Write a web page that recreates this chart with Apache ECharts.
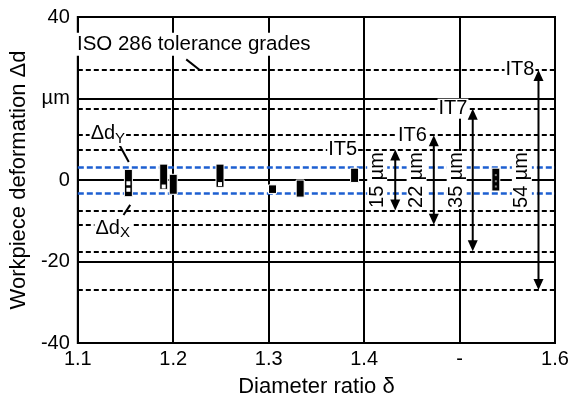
<!DOCTYPE html>
<html><head><meta charset="utf-8">
<script src="https://cdn.jsdelivr.net/npm/echarts@6/dist/echarts.min.js"></script>
<style>html,body{margin:0;padding:0;background:#fff}#c{width:574px;height:403px}</style>
</head><body><div id="c"></div>
<script>
// ---- data ----
const xTicks = [1.1, 1.2, 1.3, 1.4, 1.5, 1.6];
const xTickLabels = ['1.1', '1.2', '1.3', '1.4', '-', '1.6'];
const yTicks = [-40, -20, 0, 20, 40];
const yTickLabels = ['-40', '-20', '0', 'µm', '40'];
const ratios = [1.153, 1.19, 1.2, 1.249, 1.304, 1.333, 1.39, 1.538];
const deformMax = [2.6, 3.9, 1.4, 3.9, -1.2, 0.0, 2.9, 2.9];
const deformMin = [-4.1, -2.3, -3.5, -1.8, -3.3, -4.2, -0.6, -2.7];
const pointRatios = [1.153, 1.153, 1.19, 1.249];
const pointValues = [-0.8, -2.4, -1.6, -1.0];
const grayRatios = [1.538, 1.538, 1.538];
const grayValues = [1.2, -0.3, -1.6];
const itGrades = ['IT5', 'IT6', 'IT7', 'IT8'];
const itWidths = [15, 22, 35, 54];
const bandLimits = [3.2, -3.3];
// annotation anchors (data units)
const arrowRatios = [1.4326, 1.473, 1.5138, 1.5827];
const widthLabelRatios = [1.4137, 1.455, 1.497, 1.5653];
const gradeLabelRatios = [1.3775, 1.4507, 1.4931, 1.5633];
const titleText = 'ISO 286 tolerance grades';
const titleAnchor = [1.2215, 33.3];
const dyAnchor = [1.1315, 11.3];
const dxAnchor = [1.1366, -11.8];
const leaders = [
  [[1.2136, 29.6], [1.2277, 27.0]],
  [[1.1425, 9.1], [1.1534, 4.4]],
  [[1.1479, -8.6], [1.1549, -6.1]]
];

// ---- chart ----
const FONT = 'Liberation Sans, Arial, sans-serif';
const chart = echarts.init(document.getElementById('c'), null, {renderer: 'canvas'});
const near = (arr, v) => arr.findIndex(t => Math.abs(t - v) < 1e-6);

const tolLines = [];
itWidths.forEach(w => { tolLines.push({yAxis: w / 2}); tolLines.push({yAxis: -w / 2}); });

const textLabel = (extra) => Object.assign({
  show: true, position: 'inside', color: '#000', fontSize: 20, fontFamily: FONT,
  backgroundColor: '#fff', padding: [0, 1]
}, extra);

const annData = [];
annData.push({value: titleAnchor, label: textLabel({formatter: titleText, fontSize: 20.5, padding: [1, 2]})});
itGrades.forEach((g, i) => annData.push({value: [gradeLabelRatios[i], itWidths[i] / 2], label: textLabel({formatter: g})}));
itWidths.forEach((w, i) => annData.push({value: [widthLabelRatios[i], 0], label: textLabel({formatter: w + ' µm', rotate: 90})}));
const subRich = {a: {fontSize: 20, fontFamily: FONT, color: '#000'}, b: {fontSize: 15, fontFamily: FONT, color: '#000', padding: [9, 0, 0, 0]}};
annData.push({value: dyAnchor, label: textLabel({formatter: '{a|Δd}{b|Y}', rich: subRich})});
annData.push({value: dxAnchor, label: textLabel({formatter: '{a|Δd}{b|X}', rich: subRich})});

const series = [
  {
    type: 'line', data: [], silent: true, z: 2,
    markLine: {silent: true, symbol: 'none', label: {show: false}, animation: false,
      lineStyle: {color: '#000', width: 2, type: [5, 3]}, data: tolLines}
  },
  {
    type: 'line', data: [], silent: true, z: 3,
    markLine: {silent: true, symbol: 'none', label: {show: false}, animation: false,
      lineStyle: {color: '#1d5fd1', width: 2.5, type: [6, 3]}, data: bandLimits.map(v => ({yAxis: v}))}
  },
  {
    type: 'custom', z: 5, silent: true,
    data: ratios.map((r, i) => [r, deformMin[i], deformMax[i]]),
    renderItem: (params, api) => {
      const top = api.coord([api.value(0), api.value(2)]);
      const bot = api.coord([api.value(0), api.value(1)]);
      return {type: 'rect', shape: {x: top[0] - 4, y: top[1], width: 8, height: bot[1] - top[1]},
        style: {fill: '#000', stroke: '#fff', lineWidth: 1}};
    }
  },
  {
    type: 'scatter', z: 6, silent: true, symbol: 'rect', symbolSize: 4,
    itemStyle: {color: '#fff', opacity: 1},
    data: pointRatios.map((r, i) => [r, pointValues[i]])
  },
  {
    type: 'scatter', z: 6, silent: true, symbol: 'rect', symbolSize: 2,
    itemStyle: {color: '#888', opacity: 1},
    data: grayRatios.map((r, i) => [r, grayValues[i]])
  },
  ...leaders.map(l => ({type: 'line', z: 6, silent: true, symbol: 'none', data: l,
    lineStyle: {color: '#000', width: 2}})),
  {
    type: 'scatter', z: 8, silent: true, symbolSize: 0, itemStyle: {opacity: 1}, data: annData
  },
  {
    type: 'custom', z: 9, silent: true,
    data: itWidths.map((w, i) => [arrowRatios[i], w / 2]),
    renderItem: (params, api) => {
      const top = api.coord([api.value(0), api.value(1)]);
      const bot = api.coord([api.value(0), -api.value(1)]);
      const x = top[0], hw = 5, hh = 11;
      return {type: 'group', children: [
        {type: 'line', shape: {x1: x, y1: top[1] + hh - 1, x2: x, y2: bot[1] - hh + 1}, style: {stroke: '#000', lineWidth: 2}},
        {type: 'polygon', shape: {points: [[x, top[1]], [x - hw, top[1] + hh], [x + hw, top[1] + hh]]}, style: {fill: '#000'}},
        {type: 'polygon', shape: {points: [[x, bot[1]], [x - hw, bot[1] - hh], [x + hw, bot[1] - hh]]}, style: {fill: '#000'}}
      ]};
    }
  }
];

chart.setOption({
  animation: false,
  textStyle: {fontFamily: FONT},
  grid: {left: 72, right: 19, top: 17, bottom: 60, show: true, borderColor: '#000', borderWidth: 2},
  xAxis: {
    type: 'value', min: 1.1, max: 1.6, interval: 0.1,
    axisLine: {show: false}, axisTick: {show: false},
    splitLine: {show: true, lineStyle: {color: '#000', width: 2}},
    axisLabel: {color: '#000', fontSize: 20, margin: 6, fontFamily: FONT,
      formatter: v => { const i = near(xTicks, v); return i >= 0 ? xTickLabels[i] : ''; }},
    name: 'Diameter ratio δ', nameLocation: 'middle', nameGap: 33,
    nameTextStyle: {color: '#000', fontSize: 22, fontFamily: FONT}
  },
  yAxis: {
    type: 'value', min: -40, max: 40, interval: 20,
    axisLine: {show: false}, axisTick: {show: false},
    splitLine: {show: true, lineStyle: {color: '#000', width: 2}},
    axisLabel: {color: '#000', fontSize: 20, margin: 8, fontFamily: FONT,
      formatter: v => { const i = near(yTicks, v); return i >= 0 ? yTickLabels[i] : ''; }},
    name: 'Workpiece deformation Δd', nameLocation: 'middle', nameGap: 42,
    nameTextStyle: {color: '#000', fontSize: 22, fontFamily: FONT}
  },
  series: series
});
</script>
</body></html>
